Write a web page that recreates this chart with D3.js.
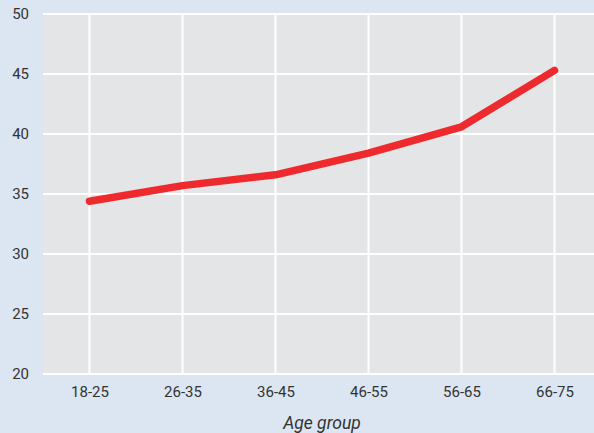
<!DOCTYPE html>
<html>
<head>
<meta charset="utf-8">
<script src="https://cdn.jsdelivr.net/npm/d3@7/dist/d3.min.js"></script>
<style>
  html, body { margin: 0; padding: 0; background: #dbe6f2; overflow: hidden; }
  svg { display: block; }
</style>
</head>
<body>
<svg id="chart" width="594" height="433"></svg>
<script>
const categories = ["18-25", "26-35", "36-45", "46-55", "56-65", "66-75"];
const values = [34.4, 35.7, 36.6, 38.4, 40.6, 45.3];
const yTicks = [20, 25, 30, 35, 40, 45, 50];
const xTitle = "Age group";

const W = 594, H = 433;
const panel = { left: 43, right: 601, top: 14, bottom: 374 };

const svg = d3.select("#chart");
svg.append("rect").attr("width", W).attr("height", H).attr("fill", "#dbe6f2");

const x = d3.scalePoint().domain(categories)
  .range([panel.left, panel.right]).padding(0.5);
const y = d3.scaleLinear().domain([20, 50]).range([panel.bottom, panel.top]);

svg.append("rect")
  .attr("x", panel.left).attr("y", panel.top)
  .attr("width", panel.right - panel.left).attr("height", panel.bottom - panel.top)
  .attr("fill", "#e4e5e7");

// grid
svg.append("g").selectAll("line").data(yTicks).join("line")
  .attr("x1", panel.left).attr("x2", panel.right)
  .attr("y1", d => y(d)).attr("y2", d => y(d))
  .attr("stroke", "#ffffff").attr("stroke-width", 2);
svg.append("g").selectAll("line").data(categories).join("line")
  .attr("x1", d => x(d)).attr("x2", d => x(d))
  .attr("y1", panel.top).attr("y2", panel.bottom)
  .attr("stroke", "#ffffff").attr("stroke-width", 2);

// axes
const yAxis = svg.append("g")
  .attr("transform", `translate(${panel.left},0)`)
  .call(d3.axisLeft(y).tickValues(yTicks).tickSize(0).tickPadding(14));
const xAxis = svg.append("g")
  .attr("transform", `translate(0,${panel.bottom})`)
  .call(d3.axisBottom(x).tickSize(0).tickPadding(12));
[yAxis, xAxis].forEach(g => {
  g.select(".domain").remove();
  g.selectAll("text")
    .attr("fill", "#333333")
    .style("font-family", "Roboto, 'Liberation Sans', sans-serif")
    .style("font-size", "15px");
});

svg.append("text")
  .attr("x", (panel.left + panel.right) / 2).attr("y", 429)
  .attr("text-anchor", "middle")
  .attr("fill", "#333333")
  .style("font-family", "Roboto, 'Liberation Sans', sans-serif")
  .style("font-size", "17.5px").style("font-style", "italic")
  .text(xTitle);

// line
const line = d3.line().x((d, i) => x(categories[i])).y(d => y(d));
svg.append("path")
  .datum(values)
  .attr("d", line)
  .attr("fill", "none")
  .attr("stroke", "#ee2a2e")
  .attr("stroke-width", 7.5)
  .attr("stroke-linecap", "round")
  .attr("stroke-linejoin", "round");
</script>
</body>
</html>
